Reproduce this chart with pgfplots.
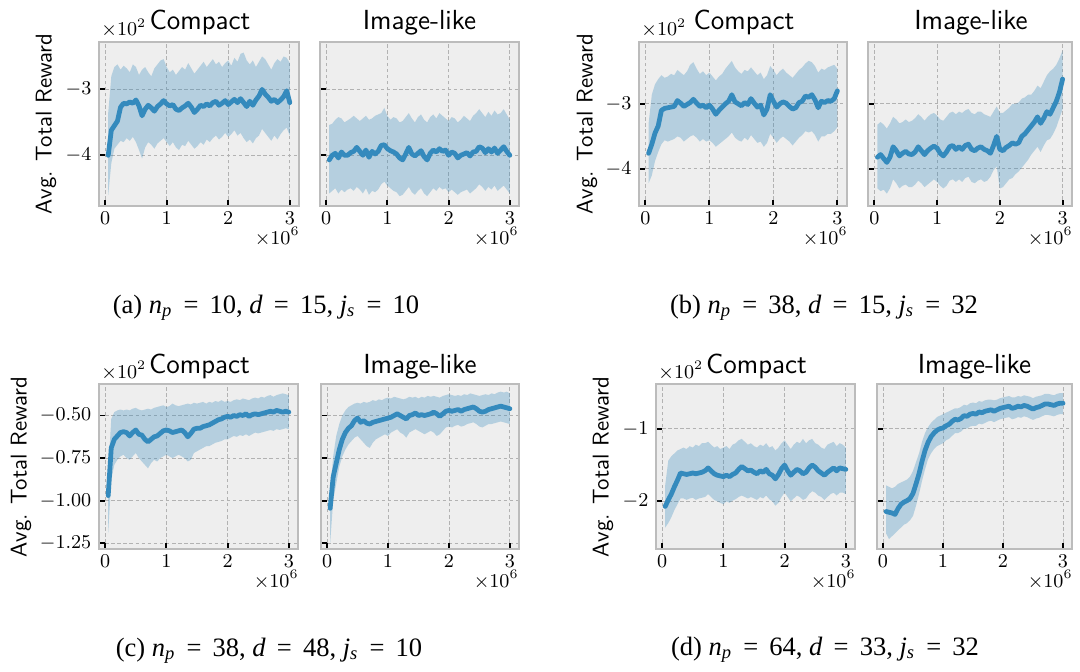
\documentclass[border=0pt]{standalone}
\usepackage{fontspec}
\newfontfamily\capfont{Liberation Serif}
\usepackage{pgfplots}
\pgfplotsset{compat=1.18}
\usepackage{pgfplotstable}
\usepgfplotslibrary{fillbetween}

\definecolor{lc}{HTML}{348ABD}
\definecolor{bgc}{HTML}{EEEEEE}
\definecolor{framec}{HTML}{BCBCBC}
\definecolor{gridc}{HTML}{B2B2B2}

% columns: x (1e6 steps), mean, lower, upper (1e2 reward)
\pgfplotstableread{
x m lo hi
0.05 -4.00 -4.60 -3.35
0.10 -3.62 -4.12 -2.80
0.15 -3.55 -3.90 -2.66
0.20 -3.48 -3.84 -2.62
0.25 -3.27 -3.78 -2.70
0.30 -3.21 -3.80 -2.64
0.35 -3.22 -3.74 -2.68
0.40 -3.19 -3.78 -2.74
0.45 -3.21 -3.72 -2.62
0.50 -3.16 -3.80 -2.66
0.55 -3.25 -3.92 -2.78
0.60 -3.40 -4.05 -2.70
0.65 -3.30 -3.88 -2.66
0.70 -3.24 -3.80 -2.74
0.75 -3.28 -3.84 -2.80
0.80 -3.33 -3.90 -2.68
0.85 -3.26 -3.82 -2.62
0.90 -3.22 -3.78 -2.56
0.95 -3.17 -3.74 -2.54
1.00 -3.22 -3.80 -2.66
1.05 -3.25 -3.86 -2.74
1.10 -3.23 -3.80 -2.70
1.15 -3.30 -3.88 -2.78
1.20 -3.32 -3.92 -2.72
1.25 -3.28 -3.84 -2.66
1.30 -3.25 -3.86 -2.70
1.35 -3.21 -3.78 -2.60
1.40 -3.27 -3.84 -2.68
1.45 -3.35 -3.90 -2.76
1.50 -3.30 -3.86 -2.70
1.55 -3.24 -3.80 -2.64
1.60 -3.26 -3.84 -2.58
1.65 -3.22 -3.76 -2.66
1.70 -3.25 -3.80 -2.60
1.75 -3.20 -3.74 -2.54
1.80 -3.18 -3.70 -2.62
1.85 -3.24 -3.76 -2.58
1.90 -3.21 -3.72 -2.66
1.95 -3.17 -3.66 -2.60
2.00 -3.23 -3.72 -2.56
2.05 -3.19 -3.68 -2.64
2.10 -3.15 -3.62 -2.52
2.15 -3.20 -3.70 -2.58
2.20 -3.14 -3.66 -2.46
2.25 -3.20 -3.74 -2.44
2.30 -3.26 -3.80 -2.56
2.35 -3.18 -3.76 -2.62
2.40 -3.24 -3.82 -2.56
2.45 -3.16 -3.74 -2.66
2.50 -3.10 -3.70 -2.58
2.55 -3.00 -3.60 -2.50
2.60 -3.07 -3.66 -2.54
2.65 -3.12 -3.72 -2.62
2.70 -3.18 -3.78 -2.70
2.75 -3.15 -3.70 -2.60
2.80 -3.20 -3.76 -2.54
2.85 -3.16 -3.68 -2.58
2.90 -3.11 -3.62 -2.50
2.95 -3.02 -3.58 -2.52
3.00 -3.20 -3.70 -2.60
}\tAC

\pgfplotstableread{
x m lo hi
0.05 -4.07 -4.58 -3.54
0.10 -4.00 -4.54 -3.52
0.15 -3.97 -4.50 -3.46
0.20 -4.04 -4.58 -3.42
0.25 -3.95 -4.52 -3.44
0.30 -4.00 -4.56 -3.50
0.35 -4.00 -4.52 -3.47
0.40 -3.96 -4.50 -3.44
0.45 -3.94 -4.54 -3.40
0.50 -3.88 -4.48 -3.44
0.55 -3.94 -4.52 -3.48
0.60 -4.00 -4.58 -3.44
0.65 -3.92 -4.50 -3.40
0.70 -4.03 -4.60 -3.46
0.75 -3.94 -4.54 -3.44
0.80 -3.98 -4.56 -3.40
0.85 -3.94 -4.52 -3.38
0.90 -3.85 -4.44 -3.36
0.95 -3.84 -4.40 -3.28
1.00 -3.90 -4.46 -3.40
1.05 -3.93 -4.50 -3.46
1.10 -3.95 -4.54 -3.42
1.15 -3.98 -4.56 -3.44
1.20 -4.04 -4.62 -3.50
1.25 -4.07 -4.60 -3.48
1.30 -3.98 -4.54 -3.42
1.35 -3.88 -4.48 -3.36
1.40 -3.98 -4.56 -3.44
1.45 -4.01 -4.60 -3.50
1.50 -3.97 -4.54 -3.42
1.55 -3.93 -4.50 -3.38
1.60 -4.02 -4.58 -3.46
1.65 -4.07 -4.62 -3.50
1.70 -3.97 -4.56 -3.42
1.75 -3.92 -4.50 -3.38
1.80 -3.95 -4.54 -3.44
1.85 -3.90 -4.48 -3.36
1.90 -3.94 -4.52 -3.40
1.95 -3.92 -4.50 -3.44
2.00 -4.00 -4.56 -3.48
2.05 -3.95 -4.52 -3.42
2.10 -3.97 -4.56 -3.44
2.15 -4.04 -4.60 -3.50
2.20 -4.00 -4.56 -3.46
2.25 -3.98 -4.54 -3.40
2.30 -3.96 -4.52 -3.44
2.35 -4.01 -4.58 -3.48
2.40 -3.95 -4.54 -3.40
2.45 -3.94 -4.50 -3.36
2.50 -3.87 -4.44 -3.30
2.55 -3.89 -4.48 -3.36
2.60 -3.96 -4.54 -3.42
2.65 -3.90 -4.48 -3.34
2.70 -3.95 -4.52 -3.40
2.75 -3.89 -4.46 -3.32
2.80 -3.97 -4.54 -3.38
2.85 -3.92 -4.50 -3.36
2.90 -3.87 -4.46 -3.30
2.95 -3.94 -4.52 -3.38
3.00 -4.00 -4.58 -3.46
}\tAI

\pgfplotstableread{
x m lo hi
0.05 -3.76 -4.22 -3.30
0.10 -3.62 -4.10 -2.86
0.15 -3.45 -3.88 -2.70
0.20 -3.34 -3.74 -2.62
0.25 -3.10 -3.62 -2.56
0.30 -3.07 -3.56 -2.60
0.35 -3.06 -3.58 -2.58
0.40 -3.05 -3.56 -2.54
0.45 -3.04 -3.54 -2.56
0.50 -2.95 -3.50 -2.48
0.55 -2.99 -3.52 -2.52
0.60 -3.04 -3.58 -2.56
0.65 -3.01 -3.54 -2.50
0.70 -2.98 -3.50 -2.40
0.75 -2.93 -3.48 -2.36
0.80 -2.99 -3.52 -2.46
0.85 -3.04 -3.58 -2.54
0.90 -3.02 -3.54 -2.50
0.95 -3.06 -3.58 -2.56
1.00 -3.02 -3.56 -2.52
1.05 -3.08 -3.60 -2.58
1.10 -3.16 -3.66 -2.64
1.15 -3.10 -3.62 -2.58
1.20 -3.05 -3.58 -2.54
1.25 -3.00 -3.54 -2.46
1.30 -2.96 -3.50 -2.40
1.35 -2.86 -3.44 -2.34
1.40 -2.97 -3.52 -2.44
1.45 -3.00 -3.56 -2.50
1.50 -3.03 -3.58 -2.54
1.55 -2.98 -3.52 -2.48
1.60 -3.01 -3.56 -2.50
1.65 -2.92 -3.48 -2.44
1.70 -2.99 -3.54 -2.50
1.75 -3.05 -3.60 -2.56
1.80 -3.02 -3.58 -2.52
1.85 -3.17 -3.66 -2.62
1.90 -3.08 -3.60 -2.56
1.95 -2.86 -3.46 -2.42
2.00 -2.96 -3.52 -2.48
2.05 -3.05 -3.60 -2.56
2.10 -3.00 -3.54 -2.50
2.15 -2.97 -3.50 -2.46
2.20 -2.99 -3.54 -2.52
2.25 -3.04 -3.58 -2.56
2.30 -3.08 -3.64 -2.60
2.35 -3.06 -3.58 -2.54
2.40 -2.98 -3.52 -2.48
2.45 -2.96 -3.48 -2.44
2.50 -2.88 -3.42 -2.38
2.55 -2.90 -3.44 -2.34
2.60 -2.86 -3.42 -2.36
2.65 -2.94 -3.48 -2.42
2.70 -3.06 -3.58 -2.52
2.75 -2.96 -3.50 -2.46
2.80 -2.98 -3.50 -2.48
2.85 -2.95 -3.46 -2.44
2.90 -2.96 -3.46 -2.42
2.95 -2.92 -3.42 -2.40
3.00 -2.80 -3.36 -2.46
}\tBC

\pgfplotstableread{
x m lo hi
0.05 -3.82 -4.30 -3.32
0.10 -3.78 -4.34 -3.28
0.15 -3.84 -4.32 -3.32
0.20 -3.90 -4.38 -3.38
0.25 -3.82 -4.30 -3.30
0.30 -3.66 -4.16 -3.20
0.35 -3.72 -4.22 -3.24
0.40 -3.80 -4.30 -3.30
0.45 -3.76 -4.26 -3.28
0.50 -3.73 -4.24 -3.24
0.55 -3.77 -4.28 -3.28
0.60 -3.78 -4.28 -3.26
0.65 -3.74 -4.24 -3.22
0.70 -3.66 -4.18 -3.16
0.75 -3.72 -4.22 -3.20
0.80 -3.78 -4.28 -3.26
0.85 -3.72 -4.24 -3.20
0.90 -3.68 -4.20 -3.16
0.95 -3.65 -4.16 -3.14
1.00 -3.68 -4.20 -3.18
1.05 -3.76 -4.26 -3.24
1.10 -3.80 -4.30 -3.26
1.15 -3.74 -4.26 -3.20
1.20 -3.66 -4.18 -3.14
1.25 -3.64 -4.16 -3.12
1.30 -3.70 -4.20 -3.16
1.35 -3.66 -4.16 -3.12
1.40 -3.70 -4.20 -3.14
1.45 -3.64 -4.14 -3.10
1.50 -3.62 -4.12 -3.08
1.55 -3.70 -4.20 -3.14
1.60 -3.72 -4.22 -3.16
1.65 -3.68 -4.18 -3.12
1.70 -3.66 -4.16 -3.12
1.75 -3.70 -4.20 -3.16
1.80 -3.72 -4.18 -3.18
1.85 -3.76 -4.12 -3.20
1.90 -3.64 -4.02 -3.12
1.95 -3.50 -3.96 -3.04
2.00 -3.70 -4.30 -3.14
2.05 -3.72 -4.28 -3.14
2.10 -3.67 -4.22 -3.10
2.15 -3.64 -4.16 -3.06
2.20 -3.60 -4.14 -3.00
2.25 -3.62 -4.08 -3.00
2.30 -3.60 -4.04 -2.98
2.35 -3.50 -3.98 -2.92
2.40 -3.46 -3.92 -2.90
2.45 -3.40 -3.86 -2.86
2.50 -3.34 -3.78 -2.86
2.55 -3.28 -3.72 -2.80
2.60 -3.20 -3.66 -2.72
2.65 -3.30 -3.74 -2.76
2.70 -3.22 -3.64 -2.66
2.75 -3.12 -3.56 -2.56
2.80 -3.16 -3.54 -2.50
2.85 -3.06 -3.46 -2.46
2.90 -2.96 -3.36 -2.40
2.95 -2.82 -3.22 -2.30
3.00 -2.62 -3.08 -2.18
}\tBI

\pgfplotstableread{
x m lo hi
0.05 -0.970 -1.19 -0.84
0.10 -0.690 -0.88 -0.52
0.15 -0.640 -0.79 -0.48
0.20 -0.620 -0.76 -0.47
0.25 -0.600 -0.74 -0.465
0.30 -0.595 -0.73 -0.47
0.35 -0.600 -0.75 -0.465
0.40 -0.620 -0.76 -0.47
0.45 -0.600 -0.74 -0.46
0.50 -0.585 -0.72 -0.455
0.55 -0.610 -0.75 -0.465
0.60 -0.615 -0.77 -0.47
0.65 -0.640 -0.79 -0.465
0.70 -0.655 -0.81 -0.46
0.75 -0.640 -0.78 -0.465
0.80 -0.625 -0.76 -0.455
0.85 -0.620 -0.77 -0.45
0.90 -0.605 -0.75 -0.445
0.95 -0.590 -0.74 -0.44
1.00 -0.585 -0.73 -0.45
1.05 -0.590 -0.74 -0.445
1.10 -0.600 -0.75 -0.43
1.15 -0.595 -0.74 -0.44
1.20 -0.590 -0.73 -0.445
1.25 -0.585 -0.74 -0.44
1.30 -0.600 -0.75 -0.435
1.35 -0.625 -0.77 -0.43
1.40 -0.605 -0.76 -0.435
1.45 -0.580 -0.72 -0.425
1.50 -0.575 -0.71 -0.43
1.55 -0.575 -0.70 -0.425
1.60 -0.565 -0.69 -0.42
1.65 -0.560 -0.68 -0.43
1.70 -0.555 -0.68 -0.42
1.75 -0.545 -0.67 -0.425
1.80 -0.535 -0.66 -0.415
1.85 -0.525 -0.655 -0.42
1.90 -0.520 -0.65 -0.41
1.95 -0.510 -0.64 -0.42
2.00 -0.505 -0.64 -0.415
2.05 -0.510 -0.63 -0.42
2.10 -0.500 -0.62 -0.41
2.15 -0.505 -0.625 -0.405
2.20 -0.495 -0.615 -0.41
2.25 -0.500 -0.62 -0.40
2.30 -0.490 -0.61 -0.405
2.35 -0.505 -0.62 -0.41
2.40 -0.495 -0.61 -0.40
2.45 -0.490 -0.60 -0.395
2.50 -0.495 -0.605 -0.40
2.55 -0.490 -0.60 -0.39
2.60 -0.485 -0.595 -0.395
2.65 -0.480 -0.59 -0.385
2.70 -0.475 -0.585 -0.38
2.75 -0.480 -0.59 -0.39
2.80 -0.470 -0.58 -0.38
2.85 -0.475 -0.585 -0.375
2.90 -0.480 -0.58 -0.37
2.95 -0.475 -0.575 -0.375
3.00 -0.480 -0.58 -0.38
}\tCC

\pgfplotstableread{
x m lo hi
0.05 -1.045 -1.25 -0.95
0.10 -0.860 -1.00 -0.74
0.15 -0.780 -0.90 -0.62
0.20 -0.700 -0.80 -0.55
0.25 -0.640 -0.74 -0.50
0.30 -0.600 -0.70 -0.47
0.35 -0.575 -0.67 -0.45
0.40 -0.560 -0.65 -0.44
0.45 -0.530 -0.63 -0.43
0.50 -0.515 -0.62 -0.425
0.55 -0.540 -0.64 -0.43
0.60 -0.530 -0.66 -0.42
0.65 -0.545 -0.68 -0.425
0.70 -0.550 -0.69 -0.42
0.75 -0.540 -0.66 -0.41
0.80 -0.535 -0.64 -0.415
0.85 -0.530 -0.63 -0.405
0.90 -0.525 -0.62 -0.41
0.95 -0.520 -0.61 -0.40
1.00 -0.515 -0.62 -0.395
1.05 -0.510 -0.60 -0.40
1.10 -0.500 -0.59 -0.39
1.15 -0.490 -0.58 -0.395
1.20 -0.500 -0.60 -0.40
1.25 -0.510 -0.61 -0.405
1.30 -0.520 -0.63 -0.40
1.35 -0.500 -0.60 -0.39
1.40 -0.495 -0.59 -0.395
1.45 -0.485 -0.58 -0.39
1.50 -0.500 -0.59 -0.40
1.55 -0.495 -0.60 -0.39
1.60 -0.500 -0.61 -0.395
1.65 -0.495 -0.60 -0.385
1.70 -0.490 -0.59 -0.39
1.75 -0.480 -0.60 -0.385
1.80 -0.490 -0.62 -0.39
1.85 -0.505 -0.61 -0.395
1.90 -0.490 -0.59 -0.385
1.95 -0.475 -0.57 -0.38
2.00 -0.470 -0.565 -0.375
2.05 -0.475 -0.57 -0.38
2.10 -0.470 -0.56 -0.385
2.15 -0.465 -0.555 -0.38
2.20 -0.475 -0.565 -0.385
2.25 -0.465 -0.56 -0.375
2.30 -0.460 -0.55 -0.38
2.35 -0.455 -0.545 -0.37
2.40 -0.450 -0.54 -0.375
2.45 -0.460 -0.55 -0.38
2.50 -0.475 -0.565 -0.385
2.55 -0.480 -0.57 -0.38
2.60 -0.475 -0.56 -0.375
2.65 -0.465 -0.55 -0.38
2.70 -0.460 -0.55 -0.37
2.75 -0.455 -0.545 -0.375
2.80 -0.450 -0.54 -0.365
2.85 -0.445 -0.535 -0.36
2.90 -0.450 -0.54 -0.365
2.95 -0.455 -0.545 -0.36
3.00 -0.460 -0.55 -0.37
}\tCI

\pgfplotstableread{
x m lo hi
0.05 -2.07 -2.36 -1.78
0.10 -1.98 -2.30 -1.44
0.15 -1.90 -2.22 -1.38
0.20 -1.80 -2.12 -1.34
0.25 -1.71 -2.04 -1.30
0.30 -1.61 -1.96 -1.28
0.35 -1.62 -1.96 -1.26
0.40 -1.63 -1.98 -1.28
0.45 -1.62 -1.96 -1.24
0.50 -1.61 -1.95 -1.26
0.55 -1.62 -1.98 -1.22
0.60 -1.61 -1.96 -1.24
0.65 -1.60 -1.95 -1.20
0.70 -1.58 -1.94 -1.20
0.75 -1.54 -1.90 -1.18
0.80 -1.58 -1.94 -1.22
0.85 -1.62 -1.98 -1.26
0.90 -1.64 -2.00 -1.24
0.95 -1.65 -2.02 -1.28
1.00 -1.66 -2.04 -1.26
1.05 -1.64 -2.00 -1.24
1.10 -1.66 -2.02 -1.28
1.15 -1.63 -1.99 -1.22
1.20 -1.61 -1.97 -1.20
1.25 -1.56 -1.94 -1.16
1.30 -1.52 -1.92 -1.14
1.35 -1.55 -1.94 -1.18
1.40 -1.58 -1.96 -1.22
1.45 -1.57 -1.94 -1.20
1.50 -1.60 -1.96 -1.24
1.55 -1.62 -1.98 -1.26
1.60 -1.58 -1.94 -1.22
1.65 -1.60 -1.96 -1.24
1.70 -1.56 -1.92 -1.20
1.75 -1.62 -1.97 -1.26
1.80 -1.64 -2.00 -1.24
1.85 -1.69 -2.06 -1.30
1.90 -1.63 -2.02 -1.26
1.95 -1.55 -1.94 -1.20
2.00 -1.50 -1.88 -1.16
2.05 -1.58 -1.94 -1.22
2.10 -1.64 -2.00 -1.28
2.15 -1.60 -1.96 -1.22
2.20 -1.56 -1.92 -1.18
2.25 -1.58 -1.94 -1.20
2.30 -1.62 -1.98 -1.14
2.35 -1.60 -1.96 -1.20
2.40 -1.54 -1.90 -1.16
2.45 -1.50 -1.86 -1.14
2.50 -1.53 -1.88 -1.20
2.55 -1.58 -1.92 -1.22
2.60 -1.61 -1.94 -1.26
2.65 -1.64 -1.98 -1.28
2.70 -1.60 -1.94 -1.22
2.75 -1.57 -1.90 -1.20
2.80 -1.54 -1.88 -1.18
2.85 -1.58 -1.92 -1.24
2.90 -1.54 -1.88 -1.20
2.95 -1.55 -1.88 -1.22
3.00 -1.56 -1.90 -1.26
}\tDC

\pgfplotstableread{
x m lo hi
0.05 -2.14 -2.44 -1.78
0.10 -2.15 -2.52 -1.80
0.15 -2.16 -2.48 -1.82
0.20 -2.18 -2.44 -1.80
0.25 -2.10 -2.40 -1.76
0.30 -2.04 -2.36 -1.74
0.35 -2.01 -2.32 -1.72
0.40 -1.99 -2.30 -1.70
0.45 -1.96 -2.26 -1.66
0.50 -1.89 -2.20 -1.58
0.55 -1.76 -2.06 -1.46
0.60 -1.62 -1.90 -1.34
0.65 -1.45 -1.72 -1.18
0.70 -1.30 -1.56 -1.06
0.75 -1.19 -1.42 -0.98
0.80 -1.11 -1.34 -0.92
0.85 -1.06 -1.28 -0.88
0.90 -1.02 -1.24 -0.84
0.95 -1.00 -1.22 -0.82
1.00 -0.99 -1.20 -0.80
1.05 -0.96 -1.16 -0.78
1.10 -0.94 -1.14 -0.76
1.15 -0.90 -1.10 -0.74
1.20 -0.87 -1.06 -0.72
1.25 -0.88 -1.06 -0.72
1.30 -0.86 -1.04 -0.70
1.35 -0.82 -1.00 -0.67
1.40 -0.83 -1.00 -0.68
1.45 -0.80 -0.97 -0.65
1.50 -0.79 -0.96 -0.64
1.55 -0.80 -0.96 -0.65
1.60 -0.77 -0.93 -0.62
1.65 -0.78 -0.94 -0.63
1.70 -0.76 -0.92 -0.61
1.75 -0.75 -0.90 -0.60
1.80 -0.74 -0.89 -0.60
1.85 -0.76 -0.91 -0.61
1.90 -0.74 -0.89 -0.60
1.95 -0.72 -0.87 -0.58
2.00 -0.71 -0.86 -0.57
2.05 -0.70 -0.85 -0.56
2.10 -0.69 -0.84 -0.55
2.15 -0.72 -0.87 -0.57
2.20 -0.71 -0.86 -0.57
2.25 -0.69 -0.84 -0.55
2.30 -0.70 -0.85 -0.56
2.35 -0.68 -0.83 -0.54
2.40 -0.69 -0.84 -0.55
2.45 -0.71 -0.86 -0.56
2.50 -0.73 -0.88 -0.58
2.55 -0.71 -0.86 -0.56
2.60 -0.70 -0.85 -0.55
2.65 -0.68 -0.83 -0.54
2.70 -0.66 -0.81 -0.52
2.75 -0.66 -0.81 -0.52
2.80 -0.67 -0.82 -0.53
2.85 -0.68 -0.83 -0.54
2.90 -0.66 -0.81 -0.52
2.95 -0.65 -0.80 -0.51
3.00 -0.65 -0.80 -0.51
}\tDI

\pgfplotsset{
  panel/.style={
    scale only axis,
    axis background/.style={fill=bgc},
    axis line style={draw=framec, line width=0.9pt},
    grid=major,
    major grid style={gridc, line width=0.4pt, dash pattern=on 1.6pt off 1.2pt},
    xmin=-0.1, xmax=3.15,
    xtick={0,1,2,3},
    scaled ticks=false,
    tick align=inside,
    xtick pos=bottom, ytick pos=left,
    major tick length=2.8pt,
    every tick/.style={black, line width=0.9pt},
    ticklabel style={font=\fontsize{9.3}{11}\selectfont},
    xticklabel style={yshift=0.9pt},
    anchor=north west,
  },
}

\newcommand{\meanband}[1]{%
  \addplot[name path=up, draw=none, forget plot] table[x=x, y=hi] {#1};
  \addplot[name path=dn, draw=none, forget plot] table[x=x, y=lo] {#1};
  \addplot[fill=lc, fill opacity=0.3, draw=none] fill between[of=up and dn];
  \addplot[lc, line width=2.2pt, line join=round, line cap=round] table[x=x, y=m] {#1};
}
\newcommand{\eq}{\hspace{0.42em}=\hspace{0.42em}}
\newcommand{\subcap}[4]{{\capfont\fontsize{12.2}{14}\selectfont (#1)~\textit{n}\textsubscript{\textit{p}}\eq#2, \textit{d}\eq#3, \textit{j}\textsubscript{\textit{s}}\eq#4}}

\begin{document}
\begin{tikzpicture}

% (a)
\begin{axis}[panel, at={(45.54pt,-19.32pt)}, width=92pt, height=75.44pt,
  ymin=-4.77, ymax=-2.28, ytick={-4,-3}]
\meanband{\tAC}
\end{axis}
\begin{axis}[panel, at={(147.2pt,-19.32pt)}, width=91.54pt, height=75.44pt,
  ymin=-4.77, ymax=-2.28, ytick={-4,-3}, yticklabels={}]
\meanband{\tAI}
\end{axis}

% (b)
\begin{axis}[panel, at={(293.94pt,-19.32pt)}, width=95.68pt, height=75.44pt,
  ymin=-4.57, ymax=-2.05, ytick={-4,-3}]
\meanband{\tBC}
\end{axis}
\begin{axis}[panel, at={(399.28pt,-19.32pt)}, width=93.84pt, height=75.44pt,
  ymin=-4.57, ymax=-2.05, ytick={-4,-3}, yticklabels={}]
\meanband{\tBI}
\end{axis}

% (c)
\begin{axis}[panel, at={(45.54pt,-176.64pt)}, width=91.54pt, height=75.9pt,
  ymin=-1.284, ymax=-0.315, ytick={-1.25,-1,-0.75,-0.5},
  yticklabel style={/pgf/number format/fixed, /pgf/number format/fixed zerofill,
    /pgf/number format/precision=2}]
\meanband{\tCC}
\end{axis}
\begin{axis}[panel, at={(147.66pt,-176.64pt)}, width=91.08pt, height=75.9pt,
  ymin=-1.284, ymax=-0.315, ytick={-1.25,-1,-0.75,-0.5}, yticklabels={}]
\meanband{\tCI}
\end{axis}

% (d)
\begin{axis}[panel, at={(301.76pt,-176.64pt)}, width=91.54pt, height=75.9pt,
  ymin=-2.656, ymax=-0.385, ytick={-2,-1}]
\meanband{\tDC}
\end{axis}
\begin{axis}[panel, at={(403.42pt,-176.64pt)}, width=89.7pt, height=75.9pt,
  ymin=-2.656, ymax=-0.385, ytick={-2,-1}, yticklabels={}]
\meanband{\tDI}
\end{axis}

% panel titles
\begin{scope}[every node/.style={anchor=base, inner sep=0pt, font=\sffamily\fontsize{12.7}{14}\selectfont}]
\node at (200*0.46pt,-29*0.46pt) {Compact};
\node at (419.5*0.46pt,-29*0.46pt) {Image-like};
\node at (744*0.46pt,-29*0.46pt) {Compact};
\node at (971*0.46pt,-29*0.46pt) {Image-like};
\node at (199.5*0.46pt,-373*0.46pt) {Compact};
\node at (420*0.46pt,-373*0.46pt) {Image-like};
\node at (756.5*0.46pt,-373*0.46pt) {Compact};
\node at (974.5*0.46pt,-373*0.46pt) {Image-like};
\end{scope}

% y labels
\begin{scope}[every node/.style={rotate=90, font=\sffamily\fontsize{10.5}{12}\selectfont}]
\node at (46*0.46pt,-124*0.46pt) {Avg. Total Reward};
\node at (587*0.46pt,-124*0.46pt) {Avg. Total Reward};
\node at (21*0.46pt,-467*0.46pt) {Avg. Total Reward};
\node at (603*0.46pt,-467*0.46pt) {Avg. Total Reward};
\end{scope}

% offset texts
\begin{scope}[every node/.style={font=\fontsize{9.1}{11}\selectfont, inner sep=0pt}]
\node[anchor=base west] at (101*0.46pt,-35.5*0.46pt) {$\times10^{2}$};
\node[anchor=base west] at (641*0.46pt,-35.5*0.46pt) {$\times10^{2}$};
\node[anchor=base west] at (101*0.46pt,-378*0.46pt) {$\times10^{2}$};
\node[anchor=base west] at (658*0.46pt,-378*0.46pt) {$\times10^{2}$};
\node[anchor=base east] at (300*0.46pt,-244*0.46pt) {$\times10^{6}$};
\node[anchor=base east] at (519*0.46pt,-244*0.46pt) {$\times10^{6}$};
\node[anchor=base east] at (848*0.46pt,-244*0.46pt) {$\times10^{6}$};
\node[anchor=base east] at (1073*0.46pt,-244*0.46pt) {$\times10^{6}$};
\node[anchor=base east] at (299*0.46pt,-587*0.46pt) {$\times10^{6}$};
\node[anchor=base east] at (519*0.46pt,-587*0.46pt) {$\times10^{6}$};
\node[anchor=base east] at (856*0.46pt,-587*0.46pt) {$\times10^{6}$};
\node[anchor=base east] at (1073*0.46pt,-587*0.46pt) {$\times10^{6}$};
\end{scope}

% captions
\node[anchor=base] at (266*0.46pt,-313*0.46pt) {\subcap{a}{10}{15}{10}};
\node[anchor=base] at (824*0.46pt,-313*0.46pt) {\subcap{b}{38}{15}{32}};
\node[anchor=base] at (269*0.46pt,-656*0.46pt) {\subcap{c}{38}{48}{10}};
\node[anchor=base] at (825*0.46pt,-655*0.46pt) {\subcap{d}{64}{33}{32}};

% page frame
\pgfresetboundingbox
\useasboundingbox (0,0) rectangle (496.8pt,-308.66pt);
\end{tikzpicture}
\end{document}
